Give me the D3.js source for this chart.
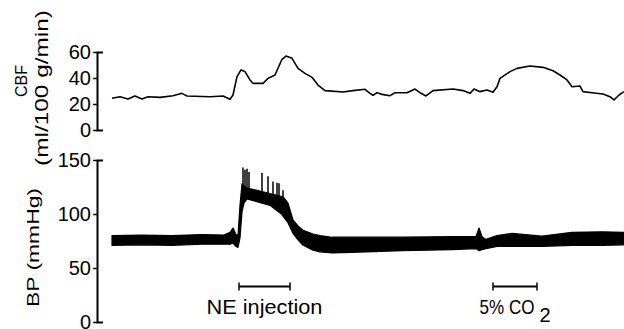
<!DOCTYPE html>
<html>
<head>
<meta charset="utf-8">
<script src="https://cdn.jsdelivr.net/npm/d3@7"></script>
<style>
  body { margin: 0; background: #fff; }
  svg { display: block; font-family: "Liberation Sans", Arial, sans-serif; }
</style>
</head>
<body>
<div id="chart"></div>
<script>
// time in seconds from start of the trace
const cbfTrace = [
  [0,24.4],[8,25.6],[16,23.8],[23,26.2],[30,23.8],[36,25.6],[48,25.1],[61,26.4],[70,28.2],[75,26.2],
  [98,25.6],[111,26.2],[118,23.6],[121,26.9],[125,41],[129,46.2],[133,44.9],[138,38.5],[141,35.9],
  [151,35.9],[156,39.7],[163,42.3],[170,54.4],[174,56.9],[180,55.1],[186,47.4],[193,43.6],[200,40.5],
  [206,34.6],[213,30.3],[231,29.2],[241,30.3],[253,31.3],[258,28.2],[261,26.7],[265,28.7],[270,27.4],
  [278,26.4],[283,28.7],[295,28.7],[303,31.5],[308,28.7],[314,26.2],[321,30.3],[341,31.5],[351,30.3],
  [358,28.2],[362,31.5],[368,29.5],[375,30.8],[381,29],[385,33.3],[388,39.7],[398,44.9],[405,47.4],
  [418,49.2],[431,48.2],[441,45.6],[448,42.3],[455,38.5],[460,33.3],[468,33.8],[471,29.5],[480,28.7],
  [491,27.7],[498,25.6],[502,23.1],[507,26.9],[512,29.5]
]

const bpTime = [0,30,60,90,112,118,121,124,126,128,130,132,135,158,168,171,176,181,186,191,201,208,220,240,290,340,364,367,370,374,385,400,430,460,490,512]
const bpLow  = [71,71.5,71,72,72,72,73,70,69,78,102,110,114,108,101,98,92,82,76,71,66.5,65,64,64.5,66,67,68,66,67,68,70,70,70,71,71,71.5]
const bpHigh = [80,80.5,80,81,80.5,83,87,81,80,108,128,126,124,119,116.5,116,110,94.5,89,85,81.5,80,78.5,78.5,78.5,79,79,87,79,76.5,80,82,79.5,83,83.5,83]

// pressure spikes during the NE plateau: [time, peak]
const bpSpikes = [[131,143],[133,141],[135,142],[137,139],[150,138],[156,135],[161,130],[165,129],[167,128.5],[171,122]]

const cbfTicks = [0, 20, 40, 60]
const bpTicks = [0, 50, 100, 150]

const events = [
  { label: "NE injection", start: 127, end: 178 },
  { label: "5% CO", sub: "2", start: 381, end: 425 }
]

const W = 624, H = 329
// printed widths of the labels (the original lettering is wider than Arial)
const labelWidth = { "NE injection": 116, "5% CO": 55 }

const svg = d3.select("#chart").append("svg")
  .attr("width", W)
  .attr("height", H)

const x = d3.scaleLinear().domain([0, 512]).range([112, 624])
const yCbf = d3.scaleLinear().domain([0, 60]).range([130, 52])
const yBp = d3.scaleLinear().domain([0, 150]).range([322, 160])

function drawAxis(scale, ticks) {
  const g = svg.append("g")
    .attr("transform", "translate(97,0)")
    .call(d3.axisLeft(scale).tickValues(ticks).tickSizeInner(4).tickSizeOuter(-6).tickPadding(2))
  g.select(".domain").attr("stroke", "#000").attr("stroke-width", 2).attr("fill", "none")
  g.selectAll(".tick line").attr("stroke", "#000").attr("stroke-width", 1.5)
  g.selectAll(".tick text")
    .attr("fill", "#000")
    .style("font-size", "20px")
    .style("font-family", "'Liberation Sans', Arial, sans-serif")
  return g
}

drawAxis(yCbf, cbfTicks)
drawAxis(yBp, bpTicks)

// text stretched horizontally to a given width, keeping glyph height
function wideText(parent, str, size, width, place, anchor) {
  const t = parent.append("text")
    .attr("text-anchor", anchor)
    .style("font-size", size + "px")
    .text(str)
  const natural = t.node().getComputedTextLength()
  t.attr("transform", `${place} scale(${width / natural},1)`)
  return t
}

// axis titles
wideText(svg, "CBF", 16, 32, "translate(27,81) rotate(-90)", "middle")
wideText(svg, "(ml/100 g/min)", 19, 156, "translate(47.5,88) rotate(-90)", "middle")
wideText(svg, "BP (mmHg)", 16.5, 119, "translate(38.5,247.5) rotate(-90)", "middle")

// CBF trace
const cbfLine = d3.line()
  .x((d) => x(d[0]))
  .y((d) => yCbf(d[1]))

svg.append("path")
  .datum(cbfTrace)
  .attr("fill", "none")
  .attr("stroke", "#000")
  .attr("stroke-width", 1.6)
  .attr("stroke-linejoin", "round")
  .attr("d", cbfLine)

// BP trace: pulsatile band between diastolic and systolic envelopes
const bpRows = bpTime.map((t, i) => ({ t, lo: bpLow[i], hi: bpHigh[i] }))

const bpArea = d3.area()
  .x((d) => x(d.t))
  .y0((d) => yBp(d.lo))
  .y1((d) => yBp(d.hi))

svg.append("path")
  .datum(bpRows)
  .attr("fill", "#000")
  .attr("stroke", "#000")
  .attr("stroke-width", 1.2)
  .attr("stroke-linejoin", "round")
  .attr("d", bpArea)

const hiAt = (t) => {
  const i = d3.bisectLeft(bpTime, t)
  const a = bpRows[Math.max(0, i - 1)], b = bpRows[Math.min(bpRows.length - 1, i)]
  if (a === b) return a.hi
  return a.hi + (b.hi - a.hi) * (t - a.t) / (b.t - a.t)
}

svg.selectAll(".spike")
  .data(bpSpikes)
  .enter()
  .append("line")
  .attr("class", "spike")
  .attr("x1", (d) => x(d[0]))
  .attr("x2", (d) => x(d[0]))
  .attr("y1", (d) => yBp(hiAt(d[0])))
  .attr("y2", (d) => yBp(d[1]))
  .attr("stroke", "#000")
  .attr("stroke-width", 1.5)

// event markers
const barY = 286.5
const ev = svg.selectAll(".event")
  .data(events)
  .enter()
  .append("g")
  .attr("class", "event")

ev.append("line")
  .attr("x1", (d) => x(d.start))
  .attr("x2", (d) => x(d.end))
  .attr("y1", barY)
  .attr("y2", barY)
  .attr("stroke", "#000")
  .attr("stroke-width", 2)

ev.selectAll(".cap")
  .data((d) => [d.start, d.end])
  .enter()
  .append("line")
  .attr("x1", (t) => x(t))
  .attr("x2", (t) => x(t))
  .attr("y1", barY - 4)
  .attr("y2", barY + 4)
  .attr("stroke", "#000")
  .attr("stroke-width", 1.5)

// label: main text centred under the bar; subscript, if any, follows it
ev.each(function (d) {
  const g = d3.select(this)
  const cx = x((d.start + d.end) / 2)
  const w = labelWidth[d.label]
  const subW = d.sub ? 16 : 0
  const left = cx - (w + subW) / 2
  wideText(g, d.label, 20, w, `translate(${left},314)`, "start")
  if (d.sub) {
    g.append("text")
      .attr("x", left + w + 5)
      .attr("y", 322)
      .style("font-size", "20px")
      .text(d.sub)
  }
})
</script>
</body>
</html>
